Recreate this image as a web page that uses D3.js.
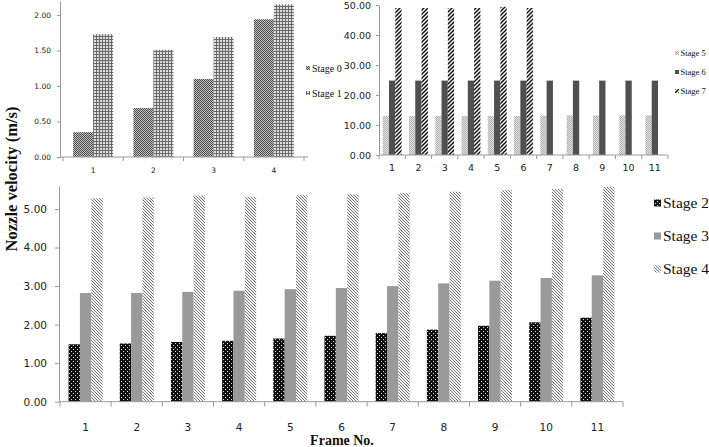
<!DOCTYPE html>
<html><head><meta charset="utf-8">
<script src="https://cdn.jsdelivr.net/npm/d3@7"></script>
<style>
html,body{margin:0;padding:0;background:#fff;}
svg{display:block;}
</style></head>
<body>
<svg id="chart" width="709" height="447"></svg>
<script>
// ---------- DATA ----------
const topLeftCats = ["1", "2", "3", "4"];
const stage0 = [0.35, 0.69, 1.10, 1.94];
const stage1 = [1.73, 1.51, 1.69, 2.15];
const topLeftTicks = [0, 0.5, 1.0, 1.5, 2.0];

const topRightCats = ["1", "2", "3", "4", "5", "6", "7", "8", "9", "10", "11"];
const stage5 = [13.0, 13.0, 13.0, 13.0, 13.0, 13.0, 13.1, 13.2, 13.2, 13.2, 13.2];
const stage6 = [24.8, 24.8, 24.8, 24.8, 24.8, 24.8, 24.8, 24.8, 24.8, 24.8, 24.8];
const stage7 = [49.0, 49.0, 49.0, 49.0, 49.4, 49.0, null, null, null, null, null];
const topRightTicks = [0, 10, 20, 30, 40, 50];

const bottomCats = ["1", "2", "3", "4", "5", "6", "7", "8", "9", "10", "11"];
const stage2 = [1.49, 1.51, 1.55, 1.58, 1.64, 1.71, 1.78, 1.87, 1.97, 2.06, 2.18];
const stage3 = [2.82, 2.82, 2.85, 2.88, 2.92, 2.95, 3.00, 3.07, 3.14, 3.21, 3.28];
const stage4 = [5.28, 5.30, 5.35, 5.32, 5.36, 5.38, 5.41, 5.45, 5.49, 5.52, 5.57];
const bottomTicks = [0, 1, 2, 3, 4, 5];

const yTitle = "Nozzle velocity (m/s)";
const xTitle = "Frame No.";

// ---------- PATTERNS ----------
const svg = d3.select("#chart");
const defs = svg.append("defs");
function pat(id, w, h, build) {
  const p = defs.append("pattern").attr("id", id).attr("patternUnits", "userSpaceOnUse")
    .attr("width", w).attr("height", h);
  build(p);
}
pat("p0", 2, 2, p => {
  p.append("rect").attr("width", 2).attr("height", 2).attr("fill", "#c4c4c4");
  p.append("rect").attr("width", 1).attr("height", 1).attr("fill", "#4a4a4a");
  p.append("rect").attr("x", 1).attr("y", 1).attr("width", 1).attr("height", 1).attr("fill", "#4a4a4a");
});
pat("p1", 3, 3, p => {
  p.append("rect").attr("width", 3).attr("height", 3).attr("fill", "#dedede");
  p.append("rect").attr("width", 3).attr("height", 1).attr("fill", "#6a6a6a");
  p.append("rect").attr("width", 1).attr("height", 3).attr("fill", "#6a6a6a");
});
pat("p2", 4, 4, p => {
  p.append("rect").attr("width", 4).attr("height", 4).attr("fill", "#111");
  p.append("rect").attr("x", 1).attr("y", 1).attr("width", 1).attr("height", 1).attr("fill", "#d8d8d8");
  p.append("rect").attr("x", 3).attr("y", 3).attr("width", 1).attr("height", 1).attr("fill", "#d8d8d8");
});
pat("p4", 3, 3, p => {
  p.append("rect").attr("width", 3).attr("height", 3).attr("fill", "#f4f4f4");
  p.append("path").attr("d", "M-1,-1L4,4M-1,2L1,4M2,-1L4,1")
    .attr("stroke", "#666").attr("stroke-width", 0.9);
});
pat("p5", 2, 2, p => {
  p.append("rect").attr("width", 2).attr("height", 2).attr("fill", "#e2e2e2");
  p.append("rect").attr("width", 1).attr("height", 1).attr("fill", "#b0b0b0");
  p.append("rect").attr("x", 1).attr("y", 1).attr("width", 1).attr("height", 1).attr("fill", "#b0b0b0");
});
pat("p7", 4, 4, p => {
  p.append("rect").attr("width", 4).attr("height", 4).attr("fill", "#fff");
  p.append("path").attr("d", "M-1,5L5,-1M-1,1L1,-1M3,5L5,3")
    .attr("stroke", "#111").attr("stroke-width", 1.5);
});

const AXIS = "#9a9a9a";
const TICKFONT = "DejaVu Sans, sans-serif";
const SERIF = "Liberation Serif, Times New Roman, serif";

// ---------- GENERIC GROUPED BAR CHART ----------
function drawChart(cfg) {
  const g = svg.append("g");
  const x = d3.scaleBand().domain(cfg.cats).range(cfg.xRange).padding(0);
  const bw = x.bandwidth();
  const gw = bw * cfg.groupFrac;
  const x1 = d3.scaleBand().domain(cfg.series.map(s => s.name))
    .range([(bw - gw) / 2, (bw + gw) / 2]).padding(0);
  const y = d3.scaleLinear().domain(cfg.yDomain).range(cfg.yRange);

  const ya = g.append("g").attr("transform", `translate(${cfg.yAxisX},0)`)
    .call(d3.axisLeft(y).tickValues(cfg.ticks).tickFormat(d3.format(".2f"))
      .tickSize(cfg.tickSize).tickPadding(cfg.tickPad).tickSizeOuter(0));
  ya.select(".domain").attr("stroke", AXIS);
  ya.selectAll(".tick line").attr("stroke", AXIS);
  ya.selectAll("text").attr("font-family", TICKFONT).attr("font-size", cfg.fs).attr("fill", "#222");

  cfg.series.forEach(s => {
    g.append("g").selectAll("rect")
      .data(s.values.map((v, i) => ({ c: cfg.cats[i], v })).filter(d => d.v != null))
      .join("rect")
      .attr("x", d => x(d.c) + x1(s.name))
      .attr("width", x1.bandwidth())
      .attr("y", d => y(d.v))
      .attr("height", d => y(0) - y(d.v))
      .attr("fill", s.fill);
  });

  const y0 = y(0);
  const xa = g.append("g").attr("transform", `translate(0,${y0})`)
    .call(d3.axisBottom(x).tickSize(0).tickPadding(cfg.xPad).tickSizeOuter(0));
  xa.select(".domain").remove();
  xa.selectAll("text").attr("font-family", TICKFONT).attr("font-size", cfg.fs).attr("fill", "#222");
  g.append("line").attr("x1", cfg.yAxisX).attr("x2", cfg.xAxisEnd).attr("y1", y0).attr("y2", y0)
    .attr("stroke", AXIS);
  const bounds = cfg.cats.map(c => x(c)).concat([x(cfg.cats[cfg.cats.length - 1]) + bw]);
  g.append("g").selectAll("line").data(bounds).join("line")
    .attr("x1", d => d).attr("x2", d => d).attr("y1", y0).attr("y2", y0 + cfg.xTick)
    .attr("stroke", AXIS);

  const lg = g.append("g");
  cfg.series.forEach((s, i) => {
    const ly = cfg.legend.y0 + i * cfg.legend.dy;
    lg.append("rect").attr("x", cfg.legend.x).attr("y", ly - cfg.legend.sw / 2)
      .attr("width", cfg.legend.sw).attr("height", cfg.legend.sw).attr("fill", s.fill);
    lg.append("text").attr("x", cfg.legend.x + cfg.legend.sw + cfg.legend.gap).attr("y", ly)
      .attr("dy", "0.35em").attr("font-family", SERIF).attr("font-size", cfg.legend.fs)
      .attr("fill", "#111").text(s.name);
  });
  return { x, y };
}

drawChart({
  cats: topLeftCats,
  series: [{ name: "Stage 0", values: stage0, fill: "url(#p0)" },
           { name: "Stage 1", values: stage1, fill: "url(#p1)" }],
  xRange: [63, 304], groupFrac: 0.664, yDomain: [0, 2.2], yRange: [157, 0.8],
  yAxisX: 60, xAxisEnd: 308, ticks: topLeftTicks, tickSize: 3, tickPad: 6, fs: 7.5,
  xPad: 11, xTick: 4,
  legend: { x: 306, y0: 68, dy: 25, sw: 4, gap: 2, fs: 10 }
});

drawChart({
  cats: topRightCats,
  series: [{ name: "Stage 5", values: stage5, fill: "url(#p5)" },
           { name: "Stage 6", values: stage6, fill: "#505050" },
           { name: "Stage 7", values: stage7, fill: "url(#p7)" }],
  xRange: [379, 668], groupFrac: 0.72, yDomain: [0, 50], yRange: [155, 5],
  yAxisX: 379, xAxisEnd: 668, ticks: topRightTicks, tickSize: 3, tickPad: 5, fs: 9.5,
  xPad: 9.5, xTick: 4,
  legend: { x: 675, y0: 53, dy: 19, sw: 4, gap: 1.5, fs: 8.5 }
});

drawChart({
  cats: bottomCats,
  series: [{ name: "Stage 2", values: stage2, fill: "url(#p2)" },
           { name: "Stage 3", values: stage3, fill: "#9a9a9a" },
           { name: "Stage 4", values: stage4, fill: "url(#p4)" }],
  xRange: [60, 623], groupFrac: 0.665, yDomain: [0, 5.6], yRange: [401.7, 185.9],
  yAxisX: 59, xAxisEnd: 623, ticks: bottomTicks, tickSize: 4, tickPad: 8, fs: 10.5,
  xPad: 22, xTick: 5,
  legend: { x: 654, y0: 203, dy: 33, sw: 7, gap: 2, fs: 15.5 }
});

svg.append("text").attr("transform", "translate(11,179) rotate(-90)")
  .attr("text-anchor", "middle").attr("dy", "0.35em")
  .attr("font-family", SERIF).attr("font-weight", "bold").attr("font-size", 16.5)
  .attr("fill", "#111").text(yTitle);
svg.append("text").attr("x", 342).attr("y", 444.5)
  .attr("text-anchor", "middle")
  .attr("font-family", SERIF).attr("font-weight", "bold").attr("font-size", 14)
  .attr("fill", "#111").text(xTitle);
</script>
</body></html>
